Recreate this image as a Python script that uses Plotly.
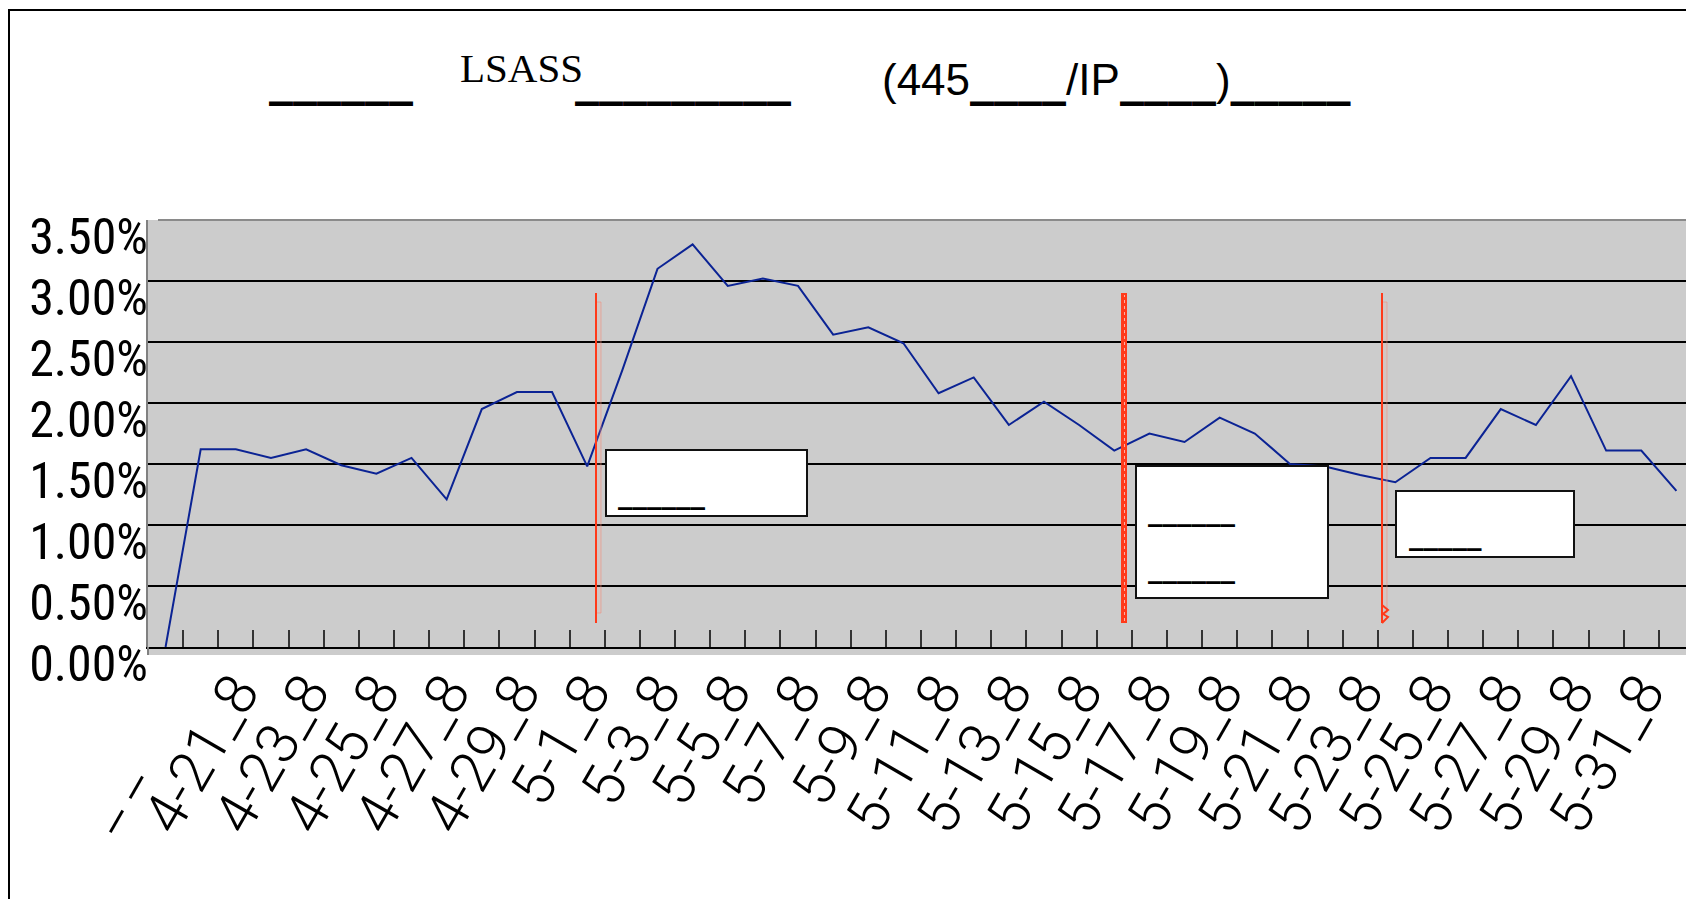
import plotly.graph_objects as go

# ---------------- data ----------------
categories = [
    "_ _", "4-20_8", "4-21_8", "4-22_8", "4-23_8", "4-24_8", "4-25_8", "4-26_8",
    "4-27_8", "4-28_8", "4-29_8", "4-30_8", "5-1_8", "5-2_8", "5-3_8", "5-4_8",
    "5-5_8", "5-6_8", "5-7_8", "5-8_8", "5-9_8", "5-10_8", "5-11_8", "5-12_8",
    "5-13_8", "5-14_8", "5-15_8", "5-16_8", "5-17_8", "5-18_8", "5-19_8", "5-20_8",
    "5-21_8", "5-22_8", "5-23_8", "5-24_8", "5-25_8", "5-26_8", "5-27_8", "5-28_8",
    "5-29_8", "5-30_8", "5-31_8", "6-1_8",
]
values_pct = [
    0.00, 1.62, 1.62, 1.55, 1.62, 1.49, 1.42, 1.55, 1.21, 1.95, 2.09, 2.09,
    1.48, 2.27, 3.10, 3.30, 2.96, 3.02, 2.96, 2.56, 2.62, 2.49, 2.08, 2.21,
    1.82, 2.01, 1.82, 1.61, 1.75, 1.68, 1.88, 1.75, 1.50, 1.48, 1.41, 1.35,
    1.55, 1.55, 1.95, 1.82, 2.22, 1.61, 1.61, 1.28,
]
y_ticks_pct = [0.0, 0.5, 1.0, 1.5, 2.0, 2.5, 3.0, 3.5]
title_parts = ["______", "LSASS", "_________", "(445____/IP____)_____"]
box_texts = ["______", "______", "______", "_____"]

# ---------------- layout helpers (page pixels -> axis / paper) ----------------
PLOT_L, PLOT_R, PLOT_T, PLOT_B = 148, 1694, 220, 647
N = len(categories)
X0, X1 = -0.5, N - 0.5
YMAX = 0.035

def px2x(px):
    return X0 + (px - PLOT_L) / (PLOT_R - PLOT_L) * (X1 - X0)

def py2y(py):
    return (PLOT_B - py) / (PLOT_B - PLOT_T) * YMAX

def px2p(px):
    return (px - PLOT_L) / (PLOT_R - PLOT_L)

def py2p(py):
    return (PLOT_B - py) / (PLOT_B - PLOT_T)

def heavy_underscores(s, size):
    span = f'<span style="font-family:DejaVu Sans;font-size:{size}px"><b>'
    out, run = "", ""
    for ch in s:
        if ch == "_":
            run += ch
        else:
            if run:
                out += span + run + "</b></span>"
                run = ""
            out += ch
    if run:
        out += span + run + "</b></span>"
    return out

COND = "Roboto Condensed, Liberation Sans, sans-serif"

x_idx = list(range(N))
y_vals = [v / 100 for v in values_pct]

# first label carries trailing blank glyph room like the original
tick_text = [c if c.strip("_ ") else c + "\u00a0" * 7 for c in categories[::2]]

fig = go.Figure()
fig.add_trace(go.Scatter(
    x=x_idx, y=y_vals, mode="lines",
    line=dict(color="#0b2394", width=2),
    hoverinfo="skip",
))

shapes = []
# grey strip under the x axis
shapes.append(dict(type="rect", xref="paper", yref="paper",
                   x0=0, x1=1, y0=py2p(655), y1=0,
                   fillcolor="#cccccc", line=dict(width=0), layer="below"))
shapes.append(dict(type="line", xref="paper", yref="paper",
                   x0=0, x1=0, y0=py2p(655), y1=0,
                   line=dict(color="#808080", width=2)))
# grey top edge of plot
shapes.append(dict(type="line", xref="paper", yref="paper",
                   x0=px2p(PLOT_L + 10), x1=1, y0=1, y1=1,
                   line=dict(color="#8a8a8a", width=2)))
# outer frame
shapes.append(dict(type="rect", xref="paper", yref="paper",
                   x0=px2p(9), x1=px2p(1800), y0=py2p(1000), y1=py2p(10),
                   line=dict(color="black", width=2), fillcolor="rgba(0,0,0,0)"))

# red marker lines
red = "#ff3a1a"
for lx in (596, 1382):
    shapes.append(dict(type="rect", xref="x", yref="y",
                       x0=px2x(lx), x1=px2x(lx + 5), y0=py2y(613), y1=py2y(302),
                       line=dict(color="rgba(240,140,120,0.55)", width=1),
                       fillcolor="rgba(255,170,150,0.15)"))
    shapes.append(dict(type="line", xref="x", yref="y",
                       x0=px2x(lx), x1=px2x(lx), y0=py2y(623), y1=py2y(293),
                       line=dict(color=red, width=2)))
# zig-zag hatched line
shapes.append(dict(type="line", xref="x", yref="y",
                   x0=px2x(1124), x1=px2x(1124), y0=py2y(623), y1=py2y(293),
                   line=dict(color=red, width=6)))
shapes.append(dict(type="line", xref="x", yref="y",
                   x0=px2x(1124.5), x1=px2x(1124.5), y0=py2y(621), y1=py2y(295),
                   line=dict(color="rgba(255,205,195,0.8)", width=1, dash="dot")))
# small zigzag at bottom of third line
zz = [(1382, 605), (1388, 610), (1383, 614), (1388, 617), (1382, 623)]
path = "M " + " L ".join(f"{px2x(a)},{py2y(b)}" for a, b in zz)
shapes.append(dict(type="path", xref="x", yref="y", path=path,
                   line=dict(color=red, width=2)))

# white callout boxes
boxes = [(606, 807, 450, 516), (1136, 1328, 466, 598), (1396, 1574, 491, 557)]
for bx0, bx1, by0, by1 in boxes:
    shapes.append(dict(type="rect", xref="x", yref="y",
                       x0=px2x(bx0), x1=px2x(bx1), y0=py2y(by1), y1=py2y(by0),
                       fillcolor="white", line=dict(color="#111", width=2), layer="above"))

annotations = []
box_lines = [(616, 508, box_texts[0]), (1146, 525, box_texts[1]),
             (1146, 582, box_texts[2]), (1407, 549, box_texts[3])]
for ax_, ay_, t in box_lines:
    annotations.append(dict(xref="x", yref="y", x=px2x(ax_), y=py2y(ay_ - 15),
                            text="<b>" + t + "</b>", showarrow=False,
                            xanchor="left", yanchor="middle",
                            font=dict(family="DejaVu Sans", size=29, color="black")))

# title pieces
title_font = dict(family="Liberation Sans, Arial", size=44, color="black")
annotations.append(dict(xref="paper", yref="paper", x=px2p(267), y=py2p(78),
                        text=heavy_underscores(title_parts[0], 48), showarrow=False,
                        xanchor="left", yanchor="middle", font=title_font))
annotations.append(dict(xref="paper", yref="paper", x=px2p(521), y=py2p(68),
                        text=title_parts[1], showarrow=False, xanchor="center",
                        yanchor="middle",
                        font=dict(family="Liberation Serif, serif", size=41, color="black")))
annotations.append(dict(xref="paper", yref="paper", x=px2p(573), y=py2p(78),
                        text=heavy_underscores(title_parts[2], 48), showarrow=False,
                        xanchor="left", yanchor="middle", font=title_font))
annotations.append(dict(xref="paper", yref="paper", x=px2p(880), y=py2p(78),
                        text=heavy_underscores(title_parts[3], 48), showarrow=False,
                        xanchor="left", yanchor="middle", font=title_font))

fig.update_layout(
    width=1686, height=891,
    margin=dict(l=PLOT_L - 8, r=0, t=PLOT_T - 8, b=899 - PLOT_B, pad=0, autoexpand=False),
    paper_bgcolor="white", plot_bgcolor="#cccccc",
    showlegend=False,
    shapes=shapes, annotations=annotations,
    xaxis=dict(
        range=[X0, X1], tickmode="array",
        tickvals=x_idx[::2], ticktext=tick_text,
        ticks="", tickangle=-60, automargin=False,
        tickfont=dict(family="Roboto, sans-serif", size=58, color="black", weight=300),
        showgrid=False, zeroline=False,
        showline=True, linecolor="black", linewidth=2,
        minor=dict(tickmode="array", tickvals=[i + 0.5 for i in x_idx[:-1]],
                   ticks="inside", ticklen=17, tickwidth=1.5, tickcolor="#333",
                   showgrid=False),
        ticklabelstandoff=-14,
    ),
    yaxis=dict(
        range=[0, YMAX], tickmode="array", automargin=False,
        tickvals=[v / 100 for v in y_ticks_pct], tickformat=".2%",
        showgrid=True, gridcolor="black", gridwidth=2,
        zeroline=False, showline=True, linecolor="#808080", linewidth=2,
        ticks="inside", ticklen=10, tickwidth=2, tickcolor="black",
        tickfont=dict(family=COND, size=50, color="black"),
        ticklabelshift=16, ticklabelstandoff=-12,
    ),
)

fig.write_html("out.html")
